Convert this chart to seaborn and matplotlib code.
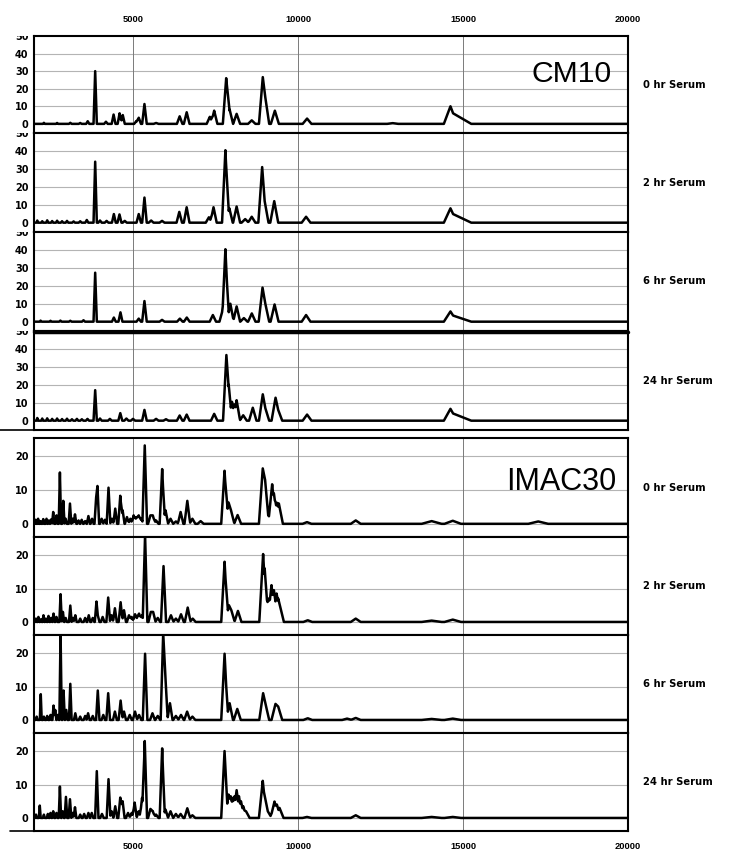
import numpy as np
import pandas as pd
import matplotlib
matplotlib.use("Agg")
import matplotlib.pyplot as plt
import seaborn as sns
from matplotlib.transforms import Bbox, TransformedBbox
from matplotlib.lines import Line2D

# ---------------- data ----------------
x_ticks = [5000, 10000, 15000, 20000]
x_tick_labels = ["5000", "10000", "15000", "20000"]
cm10_yticks = [0, 10, 20, 30, 40, 50]
imac_yticks = [0, 10, 20]
time_labels = ["0 hr Serum", "2 hr Serum", "6 hr Serum", "24 hr Serum"]
group_labels = ["CM10", "IMAC30"]

# CM10 chip, sharp peaks (m/z, intensity)
cm10_0hr_mz = [2300, 2700, 3100, 3400, 3628, 3854, 4180, 4412, 4594, 4690, 5100, 5174, 5347, 5700,
               6414, 6627, 7328, 7460, 7824, 7930, 8140, 8598, 8933, 9010, 9299, 10275, 12870]
cm10_0hr_h = [0.6, 0.5, 0.6, 0.5, 1.5, 30, 1.2, 5.3, 6, 5, 1.5, 3.5, 11.3, 0.5,
              4.3, 6.6, 4, 7.5, 26, 8, 5.7, 2, 26.6, 15, 7.5, 3, 0.4]

cm10_2hr_mz = [2100, 2250, 2400, 2550, 2700, 2850, 3000, 3200, 3400, 3600, 3854, 4000, 4200, 4420,
               4590, 4750, 5174, 5347, 5550, 5880, 6403, 6626, 7300, 7440, 7800, 7920, 8140, 8400,
               8598, 8914, 8990, 9280, 10245]
cm10_2hr_h = [1.2, 0.8, 1.3, 0.9, 1.1, 0.8, 1.0, 0.7, 0.8, 1.5, 34, 1.2, 1.0, 4.8,
              4.6, 1, 4.8, 14, 1.2, 1, 6, 8.6, 3, 8.6, 40.4, 8, 9, 2,
              3.3, 31, 12, 12, 3.3]

cm10_6hr_mz = [2200, 2500, 2800, 3100, 3500, 3854, 4420, 4620, 5174, 5347, 5880, 6420, 6630, 7420,
               7720, 7800, 7950, 8140, 8360, 8600, 8925, 9010, 9290, 10245]
cm10_6hr_h = [0.6, 0.5, 0.6, 0.5, 0.8, 27.3, 2.3, 5.2, 1.7, 11.5, 1, 1.7, 2.3, 3.7,
              6.7, 40.4, 10, 8.5, 2, 4.6, 19, 10, 9.6, 3.7]

cm10_24hr_mz = [2100, 2250, 2400, 2550, 2700, 2850, 3000, 3150, 3300, 3450, 3620, 3854, 4000, 4300,
                4615, 4800, 5000, 5347, 5700, 6000, 6414, 6627, 7460, 7830, 7900, 8000, 8070, 8140,
                8340, 8630, 8933, 9010, 9320, 9400, 10275]
cm10_24hr_h = [1.5, 1.2, 1.3, 1.0, 1.2, 0.9, 1.1, 0.8, 1.0, 0.8, 1.0, 17, 1.2, 1,
               4.2, 1.2, 1, 6, 1, 0.8, 2.9, 3.4, 3.8, 36.6, 20, 10.5, 9, 11.4,
               3, 7.2, 14.7, 7, 12.8, 6, 3.4]

# CM10 broad feature near 14600 (apex + tail)
cm10_broad_mz = [14620, 14700]
cm10_broad_wl = [200, 150]
cm10_broad_wr = [200, 550]
cm10_0hr_broad = [10, 6]
cm10_2hr_broad = [8, 4.8]
cm10_6hr_broad = [5.7, 3.4]
cm10_24hr_broad = [6.6, 4.0]

# IMAC30 chip, sharp peaks
imac_0hr_mz = [2050, 2124, 2200, 2280, 2379, 2450, 2520, 2582, 2684, 2785, 2887, 2960, 3090, 3170,
               3242, 3350, 3445, 3550, 3649, 3760, 3883, 3923, 4050, 4150, 4258, 4362, 4462, 4614,
               4685, 4817, 4920, 5020, 5100, 5173, 5250, 5356, 5528, 5600, 5700, 5884, 5986, 6138,
               6300, 6443, 6646, 6800, 7050, 7774, 7896, 7970, 8170, 8932, 9003, 9217, 9270, 9318,
               9370, 9420, 10273]
imac_0hr_h = [1.2, 1.5, 0.8, 1.4, 1.5, 1.0, 1.3, 3.5, 2.5, 15.2, 6.8, 1.5, 6, 1.5,
              2.8, 1.0, 1.2, 0.8, 2.3, 1.5, 7.8, 11.2, 1.5, 1.2, 10.7, 1.5, 4.5, 8.3,
              4, 2, 1.5, 2.5, 2, 2.5, 1.5, 23.2, 2.5, 2.5, 1, 16.2, 4, 1.5,
              0.7, 3.5, 6.8, 1.5, 0.8, 15.7, 6.3, 4, 2.6, 16.4, 13, 11.7, 9, 6.5,
              6.2, 6, 0.5]

imac_2hr_mz = [2060, 2134, 2210, 2287, 2360, 2439, 2520, 2592, 2680, 2805, 2876, 2960, 3100, 3180,
               3252, 3400, 3550, 3659, 3780, 3893, 3933, 4080, 4248, 4350, 4452, 4625, 4727, 4879,
               4960, 5062, 5130, 5184, 5270, 5366, 5540, 5610, 5750, 5925, 6150, 6300, 6455, 6658,
               6810, 7775, 7907, 7980, 8180, 8943, 8990, 9095, 9197, 9270, 9350, 9400, 9450, 10296]
imac_2hr_h = [1.0, 1.5, 0.8, 2.0, 1.0, 1.8, 1.2, 2.5, 1.5, 8.3, 3, 1.2, 4.9, 1.2,
              2, 1.0, 1.2, 2, 1.2, 6.1, 2, 1.5, 7.3, 2, 4.1, 5.9, 3.5, 2,
              1.5, 2.3, 1.5, 2.5, 2, 26, 3, 3, 1.2, 16.7, 2, 1, 2.3, 4.3,
              1, 18, 5, 3.5, 3.3, 20.3, 16, 7, 11, 9.5, 8.5, 7, 5, 0.5]

imac_6hr_mz = [2080, 2205, 2300, 2400, 2500, 2592, 2643, 2720, 2805, 2896, 2978, 3100, 3252, 3400,
               3550, 3639, 3780, 3933, 4100, 4248, 4452, 4625, 4727, 4900, 5062, 5184, 5366, 5590,
               5750, 5915, 5976, 6120, 6300, 6455, 6640, 6800, 7775, 7928, 8160, 8943, 9010, 9318,
               9400, 10296, 11487]
imac_6hr_h = [1.0, 7.7, 1.0, 1.2, 1.5, 4.3, 3, 1.5, 26, 8.8, 3, 10.8, 2, 1.0,
              1.2, 2, 1.2, 8.8, 1.5, 8, 2.5, 5.8, 2.5, 1.5, 2.5, 1.5, 19.8, 2,
              1.2, 26, 13.9, 5, 1.2, 1.5, 2.5, 1, 19.8, 5, 3.3, 8, 5, 4.8,
              4, 0.5, 0.4]

imac_24hr_mz = [2060, 2175, 2300, 2420, 2500, 2582, 2680, 2785, 2870, 2968, 3090, 3170, 3242, 3400,
                3520, 3649, 3750, 3903, 4060, 4258, 4350, 4462, 4614, 4685, 4850, 4960, 5050, 5173,
                5275, 5356, 5528, 5600, 5700, 5884, 5986, 6138, 6300, 6443, 6646, 6800, 7774, 7896,
                7960, 8018, 8080, 8140, 8210, 8272, 8340, 8425, 8932, 9003, 9085, 9288, 9360, 9440,
                10273]
imac_24hr_h = [1.0, 3.7, 1.0, 1.2, 1.5, 2, 1.5, 9.4, 2, 6.3, 5.6, 1.5, 3.2, 1.0,
               1.2, 1.5, 1.5, 14, 1.2, 11.6, 2, 3.5, 6.1, 5, 1.5, 1.5, 4.6, 2,
               6, 23, 2.7, 2, 1, 20.8, 2.5, 2, 1.2, 1.2, 2.9, 0.8, 20, 7,
               6.5, 6, 6.5, 8.3, 6.5, 5, 3.5, 2, 11.1, 6, 2, 4.9, 4, 3,
               0.3]

# IMAC30 broad low bumps
imac_broad_mz = [11750, 14050, 14690, 17280]
imac_broad_wl = [150, 300, 250, 300]
imac_broad_wr = [150, 300, 250, 300]
imac_0hr_broad = [1.0, 0.8, 0.9, 0.7]
imac_2hr_broad = [1.0, 0.4, 0.7, 0.0]
imac_6hr_broad = [0.6, 0.3, 0.4, 0.0]
imac_24hr_broad = [0.8, 0.3, 0.3, 0.0]

XMIN, XMAX = 2000, 20000
SHARP = 0.013  # relative half-width of sharp peaks


def spectrum(mz, h, bmz, bh, bwl, bwr):
    c = np.array(list(mz) + list(bmz), float)
    hh = np.array(list(h) + list(bh), float)
    wl = np.array([SHARP * v for v in mz] + list(bwl), float)
    wr = np.array([SHARP * v for v in mz] + list(bwr), float)
    xs = np.unique(np.concatenate([[XMIN, XMAX], c - wl, c, c + wr]))
    xs = xs[(xs >= XMIN) & (xs <= XMAX)]
    X = xs[:, None]
    left = hh * (1 - (c - X) / wl)
    right = hh * (1 - (X - c) / wr)
    y = np.where(X <= c, left, right)
    y = np.clip(y, 0, None).max(axis=1)
    return pd.DataFrame({"mz": xs, "intensity": y})


panels = [
    ("cm10", cm10_0hr_mz, cm10_0hr_h, cm10_0hr_broad),
    ("cm10", cm10_2hr_mz, cm10_2hr_h, cm10_2hr_broad),
    ("cm10", cm10_6hr_mz, cm10_6hr_h, cm10_6hr_broad),
    ("cm10", cm10_24hr_mz, cm10_24hr_h, cm10_24hr_broad),
    ("imac", imac_0hr_mz, imac_0hr_h, imac_0hr_broad),
    ("imac", imac_2hr_mz, imac_2hr_h, imac_2hr_broad),
    ("imac", imac_6hr_mz, imac_6hr_h, imac_6hr_broad),
    ("imac", imac_24hr_mz, imac_24hr_h, imac_24hr_broad),
]

# ---------------- layout ----------------
sns.set_style("white")
plt.rcParams["font.family"] = ["DejaVu Sans"]
plt.rcParams["text.color"] = "black"
plt.rcParams["xtick.color"] = "black"
plt.rcParams["ytick.color"] = "black"
plt.rcParams["axes.labelcolor"] = "black"

W, H = 735, 863
fig = plt.figure(figsize=(W / 100, H / 100), dpi=100)
left_px, right_px = 34, 628
bounds_px = [(36, 133), (133, 232), (232, 331), (331, 430),
             (438, 537), (537, 635), (635, 733), (733, 831)]

for i, ((grp, mz, h, bh), (top, bot)) in enumerate(zip(panels, bounds_px)):
    ax = fig.add_axes([left_px / W, 1 - bot / H, (right_px - left_px) / W, (bot - top) / H])
    if grp == "cm10":
        df = spectrum(mz, h, cm10_broad_mz, bh, cm10_broad_wl, cm10_broad_wr)
        ax.set_ylim(-5.2, 50)
        ax.set_yticks(cm10_yticks)
        grid_levels = [10, 20, 30, 40]
    else:
        df = spectrum(mz, h, imac_broad_mz, bh, imac_broad_wl, imac_broad_wr)
        ax.set_ylim(-3.9, 25.4)
        ax.set_yticks(imac_yticks)
        grid_levels = [0, 10, 20]
    for g in grid_levels:
        ax.axhline(g, color="#b4b4b4", lw=0.8, zorder=0)
    for xv in [5000, 10000, 15000]:
        ax.axvline(xv, color="#7a7a7a", lw=0.7, zorder=0)
    sns.lineplot(data=df, x="mz", y="intensity", ax=ax, color="black", lw=1.8,
                 estimator=None, sort=True, zorder=3)
    ax.set_xlim(XMIN, XMAX)
    ax.set_xticks(x_ticks)
    ax.set_xticklabels(x_tick_labels)
    ax.set_xlabel("")
    ax.set_ylabel("")
    ax.grid(False)
    for s in ax.spines.values():
        s.set_visible(True)
        s.set_linewidth(1.5)
        s.set_color("black")
    ax.tick_params(axis="both", length=0, colors="black")
    ax.tick_params(axis="y", pad=4)
    for lab in ax.get_yticklabels():
        lab.set_fontfamily("DejaVu Sans")
        lab.set_fontweight("bold")
        lab.set_fontsize(7)
        lab.set_color("black")
    clip = TransformedBbox(Bbox.from_extents(-0.1, -0.05, 1.0, 1.0), ax.transAxes)
    for lab in ax.get_yticklabels():
        lab.set_clip_box(clip)
        lab.set_clip_on(True)
    if i == 0:
        ax.tick_params(axis="x", labeltop=True, labelbottom=False, pad=9)
    elif i == 7:
        ax.tick_params(axis="x", labeltop=False, labelbottom=True, pad=8)
    else:
        ax.tick_params(axis="x", labeltop=False, labelbottom=False)
    for lab in ax.get_xticklabels():
        lab.set_fontfamily("Liberation Sans")
        lab.set_fontweight("bold")
        lab.set_fontsize(6.7)
        lab.set_color("black")
    ax.text(1.025, 0.5, time_labels[i % 4], transform=ax.transAxes, ha="left", va="center",
            fontsize=7.2, fontweight="bold", family="DejaVu Sans", color="black")
    if i == 0:
        ax.text(0.973, 0.61, group_labels[0], transform=ax.transAxes, ha="right", va="center",
                fontsize=21.7, family="Liberation Sans", color="black", zorder=5)
    if i == 4:
        ax.text(0.981, 0.555, group_labels[1], transform=ax.transAxes, ha="right", va="center",
                fontsize=22, family="Liberation Sans", color="black", zorder=5)

# separator lines extending to the left edge
fig.add_artist(Line2D([0 / W, right_px / W], [1 - 430.5 / H, 1 - 430.5 / H], color="black", lw=1.2))
fig.add_artist(Line2D([34 / W, right_px / W], [1 - 331.5 / H, 1 - 331.5 / H], color="black", lw=2.5))
fig.add_artist(Line2D([10 / W, right_px / W], [1 - 831 / H, 1 - 831 / H], color="black", lw=1.2))

fig.savefig("out.png", dpi=100)
